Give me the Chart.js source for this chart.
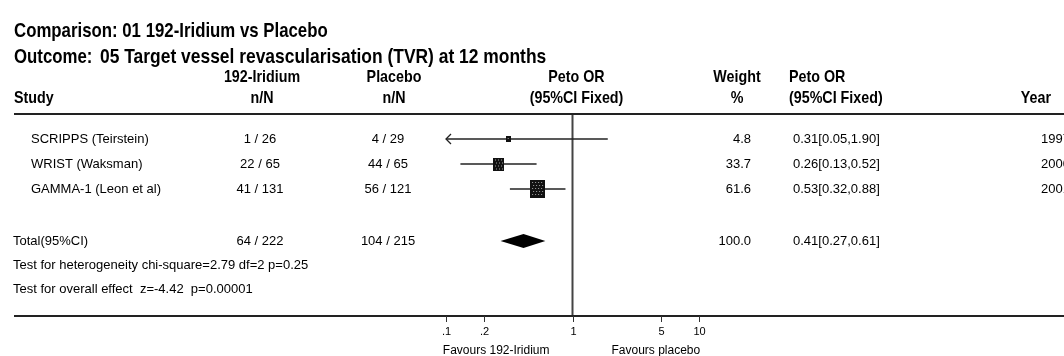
<!DOCTYPE html>
<html>
<head>
<meta charset="utf-8">
<script src="https://cdn.jsdelivr.net/npm/chart.js@4"></script>
<style>
  html, body { margin: 0; padding: 0; background: #fff; }
  #wrap { width: 1064px; height: 356px; }
</style>
</head>
<body>
<div id="wrap"><canvas id="forest" width="1064" height="356"></canvas></div>
<script>
// studies
const studies = ["SCRIPPS (Teirstein)", "WRIST (Waksman)", "GAMMA-1 (Leon et al)"];
const treatN = ["1 / 26", "22 / 65", "41 / 131"];
const controlN = ["4 / 29", "44 / 65", "56 / 121"];
const oddsRatio = [0.31, 0.26, 0.53];
const ciLow = [0.05, 0.13, 0.32];
const ciHigh = [1.90, 0.52, 0.88];
const weights = [4.8, 33.7, 61.6];
const years = ["1997", "2000", "2001"];

// pooled result
const totalTreat = "64 / 222";
const totalControl = "104 / 215";
const totalOR = 0.41;
const totalLow = 0.27;
const totalHigh = 0.61;
const totalWeight = 100.0;

// axis
const xTicks = [0.1, 0.2, 1, 5, 10];
const xTickLabels = [".1", ".2", "1", "5", "10"];

// layout (row units on the y scale, 25px each)
const studyRows = [0, 1, 2];
const totalRow = 4.08;
const hetRow = 5.04;
const effectRow = 6.0;
const yMin = -1, yMax = 7.08;

const plain = '"Liberation Sans", Arial, sans-serif';

const fmtOR = (o, l, h) => o.toFixed(2) + "[" + l.toFixed(2) + "," + h.toFixed(2) + "]";

// no Arial Narrow here, so squeeze bold Liberation Sans sideways
function narrowText(ctx, text, x, y, align, size, sx) {
  ctx.save();
  ctx.font = "bold " + size + "px " + plain;
  ctx.textAlign = align;
  ctx.textBaseline = "middle";
  ctx.translate(x, y);
  ctx.scale(sx, 1);
  ctx.fillText(text, 0, 0);
  ctx.restore();
}

// dotted box marker like RevMan, size from weight
function makeBox(w) {
  const bw = Math.max(5, Math.round(1.9 * Math.sqrt(w)));
  const bh = Math.max(6, Math.round(2.3 * Math.sqrt(w)));
  const c = document.createElement("canvas");
  c.width = bw; c.height = bh;
  const g = c.getContext("2d");
  g.fillStyle = "#111";
  g.fillRect(0, 0, bw, bh);
  g.fillStyle = "#a0a0a0";
  for (let y = 2; y < bh - 1; y += 3) {
    for (let x = 2 + (y % 2); x < bw - 1; x += 3) g.fillRect(x, y, 1, 1);
  }
  return c;
}
const boxes = weights.map(makeBox);

const datasets = [];
datasets.push({
  type: "scatter",
  order: 0,
  data: oddsRatio.map((v, i) => ({ x: v, y: studyRows[i] })),
  pointStyle: ctx => boxes[ctx.dataIndex],
  pointRadius: 5
});
studies.forEach((s, i) => {
  datasets.push({
    type: "line",
    order: 1,
    data: [{ x: ciLow[i], y: studyRows[i] }, { x: ciHigh[i], y: studyRows[i] }],
    borderColor: "#222",
    borderWidth: 1.5,
    pointRadius: 0
  });
});
datasets.push({
  type: "line",
  order: 2,
  data: [{ x: 1, y: yMin }, { x: 1, y: yMax }],
  borderColor: "#444",
  borderWidth: 2,
  pointRadius: 0
});

const tablePlugin = {
  id: "table",
  afterDatasetsDraw(chart) {
    const ctx = chart.ctx;
    const xs = chart.scales.x, ys = chart.scales.y;
    const area = chart.chartArea;
    const py = v => ys.getPixelForValue(v);
    const px = v => xs.getPixelForValue(v);

    ctx.save();
    // pooled diamond
    const ty = py(totalRow);
    ctx.fillStyle = "#000";
    ctx.beginPath();
    ctx.moveTo(px(totalLow), ty);
    ctx.lineTo(px(totalOR), ty - 7);
    ctx.lineTo(px(totalHigh), ty);
    ctx.lineTo(px(totalOR), ty + 7);
    ctx.closePath();
    ctx.fill();

    // arrows for CIs beyond the axis
    ctx.strokeStyle = "#222";
    ctx.lineWidth = 1.3;
    studies.forEach((s, i) => {
      const y = py(studyRows[i]);
      if (ciLow[i] < xs.min) {
        ctx.beginPath();
        ctx.moveTo(area.left + 5, y - 5);
        ctx.lineTo(area.left, y);
        ctx.lineTo(area.left + 5, y + 5);
        ctx.stroke();
      }
      if (ciHigh[i] > xs.max) {
        ctx.beginPath();
        ctx.moveTo(area.right - 5, y - 5);
        ctx.lineTo(area.right, y);
        ctx.lineTo(area.right - 5, y + 5);
        ctx.stroke();
      }
    });

    // rules
    ctx.strokeStyle = "#222";
    ctx.lineWidth = 2;
    ctx.beginPath();
    ctx.moveTo(14, area.top); ctx.lineTo(chart.width, area.top);
    ctx.moveTo(14, area.bottom); ctx.lineTo(chart.width, area.bottom);
    ctx.stroke();

    // ticks
    ctx.lineWidth = 1;
    ctx.strokeStyle = "#333";
    ctx.fillStyle = "#000";
    ctx.font = "11px " + plain;
    ctx.textAlign = "center";
    ctx.textBaseline = "middle";
    xTicks.forEach((t, i) => {
      const x = Math.round(px(t)) + 0.5;
      ctx.beginPath();
      ctx.moveTo(x, area.bottom); ctx.lineTo(x, area.bottom + 6);
      ctx.stroke();
      ctx.fillText(xTickLabels[i], x, area.bottom + 16);
    });
    ctx.font = "12px " + plain;
    ctx.textAlign = "right";
    ctx.fillText("Favours 192-Iridium", px(1) - 23, area.bottom + 35);
    ctx.textAlign = "left";
    ctx.fillText("Favours placebo", px(1) + 39, area.bottom + 35);

    // titles
    narrowText(ctx, "Comparison: 01 192-Iridium vs Placebo", 14, 31, "left", 21, 0.8);
    narrowText(ctx, "Outcome:", 14, 57, "left", 21, 0.8);
    narrowText(ctx, "05 Target vessel revascularisation (TVR) at 12 months", 100, 57, "left", 21, 0.83);

    // column headers
    const h = 17, hs = 0.84;
    narrowText(ctx, "192-Iridium", 262, 77, "center", h, hs);
    narrowText(ctx, "n/N", 262, 98, "center", h, hs);
    narrowText(ctx, "Placebo", 394, 77, "center", h, hs);
    narrowText(ctx, "n/N", 394, 98, "center", h, hs);
    narrowText(ctx, "Peto OR", px(1) + 4, 77, "center", h, hs);
    narrowText(ctx, "(95%CI Fixed)", px(1) + 4, 98, "center", h, hs);
    narrowText(ctx, "Weight", 737, 77, "center", h, hs);
    narrowText(ctx, "%", 737, 98, "center", h, hs);
    narrowText(ctx, "Study", 14, 98, "left", h, hs);
    narrowText(ctx, "Peto OR", 789, 77, "left", h, hs);
    narrowText(ctx, "(95%CI Fixed)", 789, 98, "left", h, hs);
    narrowText(ctx, "Year", 1051, 98, "right", h, hs);

    // study rows
    ctx.font = "13px " + plain;
    ctx.textBaseline = "middle";
    studies.forEach((s, i) => {
      const y = py(studyRows[i]);
      ctx.textAlign = "left";
      ctx.fillText(s, 31, y);
      ctx.fillText(fmtOR(oddsRatio[i], ciLow[i], ciHigh[i]), 793, y);
      ctx.fillText(years[i], 1041, y);
      ctx.textAlign = "center";
      ctx.fillText(treatN[i], 260, y);
      ctx.fillText(controlN[i], 388, y);
      ctx.textAlign = "right";
      ctx.fillText(weights[i].toFixed(1), 751, y);
    });

    // total row
    ctx.textAlign = "left";
    ctx.fillText("Total(95%CI)", 13, ty);
    ctx.fillText(fmtOR(totalOR, totalLow, totalHigh), 793, ty);
    ctx.textAlign = "center";
    ctx.fillText(totalTreat, 260, ty);
    ctx.fillText(totalControl, 388, ty);
    ctx.textAlign = "right";
    ctx.fillText(totalWeight.toFixed(1), 751, ty);

    ctx.textAlign = "left";
    ctx.fillText("Test for heterogeneity chi-square=2.79 df=2 p=0.25", 13, py(hetRow));
    ctx.fillText("Test for overall effect  z=-4.42  p=0.00001", 13, py(effectRow));
    ctx.restore();
  }
};

new Chart(document.getElementById("forest"), {
  type: "scatter",
  data: { datasets },
  options: {
    responsive: false,
    animation: false,
    layout: { padding: { left: 446, right: 365, top: 114, bottom: 40 } },
    plugins: { legend: { display: false }, tooltip: { enabled: false } },
    scales: {
      x: { type: "logarithmic", min: 0.1, max: 10, display: false },
      y: { type: "linear", min: yMin, max: yMax, reverse: true, display: false }
    }
  },
  plugins: [tablePlugin]
});
</script>
</body>
</html>
